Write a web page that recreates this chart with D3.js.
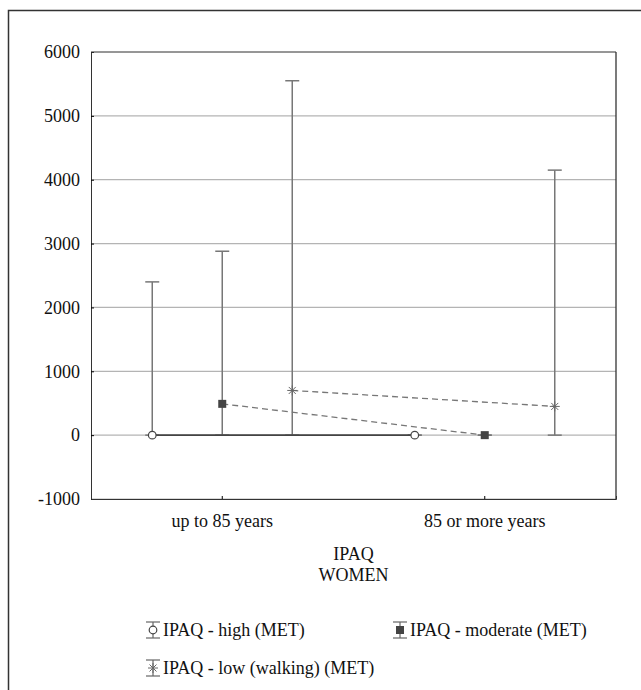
<!DOCTYPE html>
<html>
<head>
<meta charset="utf-8">
<script src="https://cdn.jsdelivr.net/npm/d3@7"></script>
<style>
  body { margin: 0; background: #fff; }
  svg text { font-family: "Liberation Serif", "Times New Roman", Times, "DejaVu Serif", serif; fill: #111; }
</style>
</head>
<body>
<div id="chart"></div>
<script>
const categories = ["up to 85 years", "85 or more years"];
const seriesNames = ["IPAQ - high (MET)", "IPAQ - moderate (MET)", "IPAQ - low (walking) (MET)"];
const highMean = [0, 0];
const highUpper = [2400, 0];
const moderateMean = [490, 0];
const moderateUpper = [2880, 0];
const lowMean = [700, 450];
const lowUpper = [5550, 4150];
const lowerBound = [0, 0];
const yTicks = [-1000, 0, 1000, 2000, 3000, 4000, 5000, 6000];
const xTitle = ["IPAQ", "WOMEN"];

const width = 641, height = 690;
const margin = { left: 91, right: 25, top: 52, bottom: 191 };
const plotW = width - margin.left - margin.right;
const plotH = height - margin.top - margin.bottom;
const serif = '"Liberation Serif", "Times New Roman", Times, "DejaVu Serif", serif';
const fontSize = 18;

const svg = d3.select('#chart').append('svg')
    .attr('width', width)
    .attr('height', height);

// outer frame
svg.append('rect')
    .attr('x', 8.5).attr('y', 10.5)
    .attr('width', 700).attr('height', 700)
    .attr('fill', 'none')
    .attr('stroke', '#333')
    .attr('stroke-width', 1.5);

const g = svg.append('g')
    .attr('transform', 'translate(' + margin.left + ',' + margin.top + ')');

const x = d3.scaleBand().domain(categories).range([0, plotW]);
const y = d3.scaleLinear().domain([-1000, 6000]).range([plotH, 0]);
const offset = d3.scaleOrdinal().domain(seriesNames).range([-70, 0, 70]);

// grid
g.selectAll('.grid').data(yTicks).enter().append('line')
    .attr('x1', 0).attr('x2', plotW)
    .attr('y1', d => y(d)).attr('y2', d => y(d))
    .attr('stroke', '#b4b4b4').attr('stroke-width', 1.2);

// axes
const yAxis = d3.axisLeft(y).tickValues(yTicks).tickSize(-3).tickPadding(11).tickFormat(d => String(d));
const yg = g.append('g').call(yAxis).attr('font-family', serif).attr('font-size', fontSize);
yg.select('.domain').attr('stroke', '#333');

const xAxis = d3.axisBottom(x).tickSize(-3).tickPadding(15);
const xg = g.append('g').attr('transform', 'translate(0,' + plotH + ')').call(xAxis)
    .attr('font-family', serif).attr('font-size', fontSize);
xg.select('.domain').attr('stroke', '#333');

// plot frame top/right
g.append('line').attr('x1', 0).attr('x2', plotW).attr('y1', 0).attr('y2', 0).attr('stroke', '#555');
g.append('line').attr('x1', plotW).attr('x2', plotW).attr('y1', 0).attr('y2', plotH).attr('stroke', '#333').attr('stroke-width', 1.3);

// axis title
g.selectAll('.xtitle').data(xTitle).enter().append('text')
    .attr('x', plotW / 2)
    .attr('y', (d, i) => plotH + 61 + i * 21)
    .attr('text-anchor', 'middle')
    .attr('font-size', fontSize)
    .text(d => d);

const series = [
  { name: seriesNames[0], mean: highMean, upper: highUpper, dash: null, lineColor: '#444', type: 'circle' },
  { name: seriesNames[1], mean: moderateMean, upper: moderateUpper, dash: '6,4', lineColor: '#777', type: 'square' },
  { name: seriesNames[2], mean: lowMean, upper: lowUpper, dash: '6,4', lineColor: '#777', type: 'star' }
];

const cx = (s, i) => x(categories[i]) + x.bandwidth() / 2 + offset(s.name);

// error bars
series.forEach(s => {
  categories.forEach((c, i) => {
    const px = cx(s, i);
    g.append('line')
        .attr('x1', px).attr('x2', px)
        .attr('y1', y(lowerBound[i])).attr('y2', y(s.upper[i]))
        .attr('stroke', '#777').attr('stroke-width', 1.5);
    [s.upper[i], lowerBound[i]].forEach(v => {
      g.append('line')
          .attr('x1', px - 7).attr('x2', px + 7)
          .attr('y1', y(v)).attr('y2', y(v))
          .attr('stroke', '#777').attr('stroke-width', 1.5);
    });
  });
});

// lines
const line = d3.line()
    .x(d => d[0])
    .y(d => y(d[1]));

series.forEach(s => {
  g.append('path')
      .attr('fill', 'none')
      .attr('stroke', s.lineColor)
      .attr('stroke-width', s.dash ? 1.3 : 1.6)
      .attr('stroke-dasharray', s.dash)
      .attr('d', line(s.mean.map((v, i) => [cx(s, i), v])));
});

function drawMarker(sel, type, px, py) {
  if (type === 'circle') {
    sel.append('circle').attr('cx', px).attr('cy', py).attr('r', 3.8)
        .attr('fill', '#fff').attr('stroke', '#444').attr('stroke-width', 1.2);
  } else if (type === 'square') {
    sel.append('rect').attr('x', px - 4).attr('y', py - 4).attr('width', 8).attr('height', 8)
        .attr('fill', '#444');
  } else {
    const r = 5;
    [[-r, 0, r, 0], [0, -r, 0, r], [-r * 0.7, -r * 0.7, r * 0.7, r * 0.7], [-r * 0.7, r * 0.7, r * 0.7, -r * 0.7]].forEach(d => {
      sel.append('line')
          .attr('x1', px + d[0]).attr('y1', py + d[1])
          .attr('x2', px + d[2]).attr('y2', py + d[3])
          .attr('stroke', '#666').attr('stroke-width', 1);
    });
  }
}

series.forEach(s => {
  s.mean.forEach((v, i) => drawMarker(g, s.type, cx(s, i), y(v)));
});

// legend
const legendPos = [[153, 630], [400, 630], [153, 668]];
series.forEach((s, k) => {
  const lx = legendPos[k][0], ly = legendPos[k][1];
  const lg = svg.append('g');
  lg.append('line').attr('x1', lx).attr('x2', lx).attr('y1', ly - 8).attr('y2', ly + 8)
      .attr('stroke', '#666').attr('stroke-width', 1.2);
  [ly - 8, ly + 8].forEach(yy => {
    lg.append('line').attr('x1', lx - 7).attr('x2', lx + 7).attr('y1', yy).attr('y2', yy)
        .attr('stroke', '#666').attr('stroke-width', 1.2);
  });
  drawMarker(lg, s.type, lx, ly);
  lg.append('text')
      .attr('x', lx + 10).attr('y', ly + 6)
      .attr('font-size', fontSize)
      .text(s.name);
});
</script>
</body>
</html>
